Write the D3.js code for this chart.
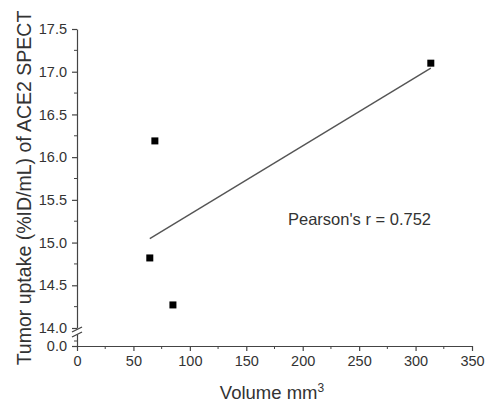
<!DOCTYPE html>
<html>
<head>
<meta charset="utf-8">
<script src="https://cdn.jsdelivr.net/npm/d3@7"></script>
<style>
  body { margin: 0; background: #fff; }
  svg text { font-family: "Liberation Sans", Arial, sans-serif; fill: #333; }
</style>
</head>
<body>
<div id="plot"></div>
<script>
// values
const volume = [64.5, 69, 85, 313.5];        // mm^3
const uptake = [14.82, 16.19, 14.27, 17.10]; // %ID/mL
const xTicks = [0, 50, 100, 150, 200, 250, 300, 350];
const yTicks = [14.0, 14.5, 15.0, 15.5, 16.0, 16.5, 17.0, 17.5];
const pearsonLabel = "Pearson's r = 0.752";

const svg = d3.select("div#plot").append("svg")
    .attr("width", 490)
    .attr("height", 404);

const axisColor = "#444";

const x = d3.scaleLinear().domain([0, 350]).range([77, 472]);
// upper part of the broken y axis
const y = d3.scaleLinear().domain([14, 17.5]).range([328, 29]);
// little bit below the break, only 0.0 shown
const yLow = d3.scaleLinear().domain([0, 0.6]).range([346, 334]);

// x axis
const xAxis = svg.append("g")
    .attr("transform", `translate(0, ${yLow(0)})`)
    .call(d3.axisBottom(x).tickValues(xTicks).tickSize(5).tickSizeOuter(0).tickPadding(5));
svg.append("g")
    .attr("transform", `translate(0, ${yLow(0)})`)
    .selectAll("line")
    .data(d3.range(25, 350, 50))
    .enter().append("line")
    .attr("x1", d => x(d)).attr("x2", d => x(d))
    .attr("y1", 0).attr("y2", 3)
    .attr("stroke", axisColor);

// y axis, upper segment
const yAxis = svg.append("g")
    .attr("transform", `translate(${x(0)}, 0)`)
    .call(d3.axisLeft(y).tickValues(yTicks).tickFormat(d3.format(".1f")).tickSize(5).tickSizeOuter(0).tickPadding(5));
svg.append("g")
    .attr("transform", `translate(${x(0)}, 0)`)
    .selectAll("line")
    .data(d3.range(14.25, 17.5, 0.5))
    .enter().append("line")
    .attr("x1", 0).attr("x2", -3)
    .attr("y1", d => y(d)).attr("y2", d => y(d))
    .attr("stroke", axisColor);

// y axis, lower segment
const yLowAxis = svg.append("g")
    .attr("transform", `translate(${x(0)}, 0)`)
    .call(d3.axisLeft(yLow).tickValues([0]).tickFormat(d3.format(".1f")).tickSize(5).tickSizeOuter(0).tickPadding(5));
svg.append("line")
    .attr("x1", x(0)).attr("x2", x(0) - 3)
    .attr("y1", yLow(0.25)).attr("y2", yLow(0.25))
    .attr("stroke", axisColor);

[xAxis, yAxis, yLowAxis].forEach(g => {
  g.selectAll("path, line").attr("stroke", axisColor).attr("stroke-width", 1.2);
  g.selectAll("text").attr("font-size", "14.5px").attr("fill", "#333")
    .attr("font-family", "'Liberation Sans', Arial, sans-serif");
});

// break marks
[y(14) + 1.5, yLow(0.6) + 0.5].forEach(cy => {
  svg.append("line")
    .attr("x1", x(0) - 5).attr("y1", cy + 2.5)
    .attr("x2", x(0) + 5).attr("y2", cy - 2.5)
    .attr("stroke", axisColor)
    .attr("stroke-width", 1.3);
});

// linear fit
const mx = d3.mean(volume), my = d3.mean(uptake);
const sxy = d3.sum(volume, (v, i) => (v - mx) * (uptake[i] - my));
const sxx = d3.sum(volume, v => (v - mx) * (v - mx));
const slope = sxy / sxx;
const intercept = my - slope * mx;
const [x0, x1] = d3.extent(volume);
svg.append("line")
    .attr("x1", x(x0)).attr("y1", y(intercept + slope * x0))
    .attr("x2", x(x1)).attr("y2", y(intercept + slope * x1))
    .attr("stroke", "#555")
    .attr("stroke-width", 1.4);

// points
svg.selectAll("rect.pt")
    .data(volume.map((v, i) => ({ v, u: uptake[i] })))
    .enter().append("rect")
    .attr("class", "pt")
    .attr("x", d => x(d.v) - 3.5)
    .attr("y", d => y(d.u) - 3.5)
    .attr("width", 7)
    .attr("height", 7)
    .attr("fill", "#000");

// annotation
svg.append("text")
    .attr("x", 288)
    .attr("y", 225)
    .attr("font-size", "16.5px")
    .text(pearsonLabel);

// axis titles
const xTitle = svg.append("text")
    .attr("x", 272)
    .attr("y", 399)
    .attr("text-anchor", "middle")
    .attr("font-size", "18.5px");
xTitle.append("tspan").text("Volume mm");
xTitle.append("tspan").attr("dy", -7).attr("font-size", "12px").text("3");

svg.append("text")
    .attr("transform", "translate(31, 188) rotate(-90)")
    .attr("text-anchor", "middle")
    .attr("font-size", "19.5px")
    .text("Tumor uptake (%ID/mL) of ACE2 SPECT");
</script>
</body>
</html>
